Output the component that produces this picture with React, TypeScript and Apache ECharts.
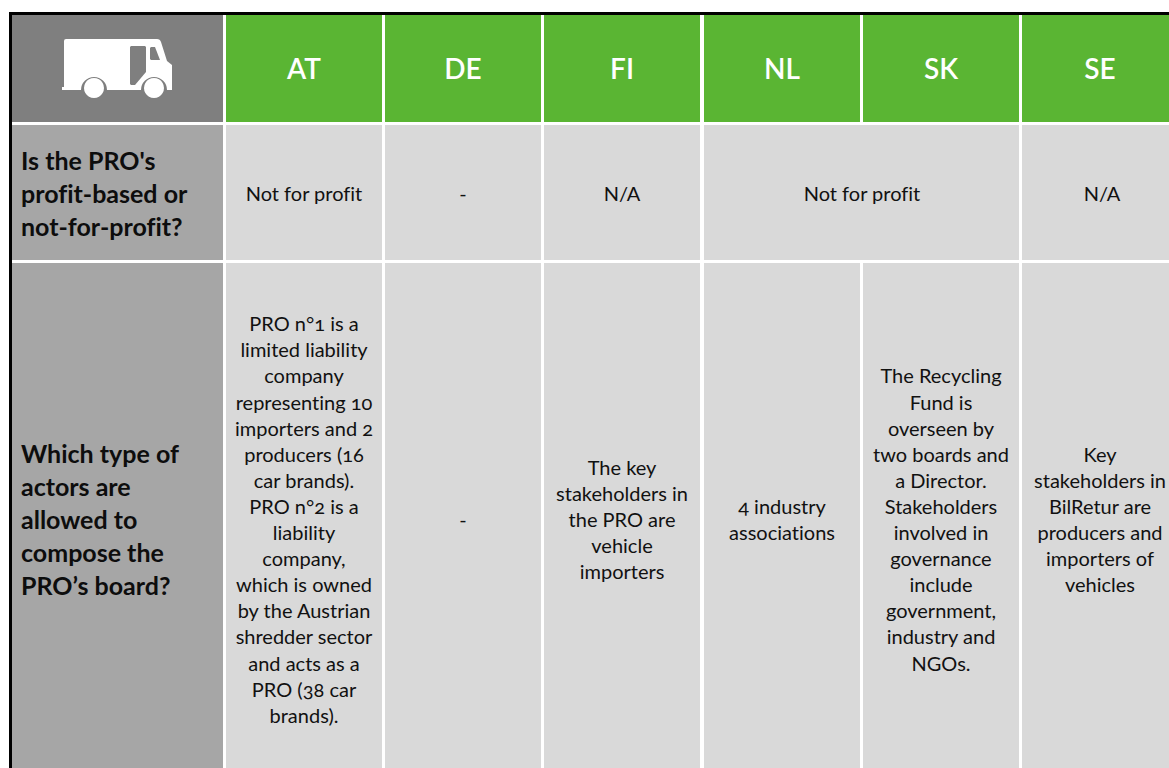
import React, { useEffect, useRef } from "react";
import * as echarts from "echarts";

const countries = ["AT", "DE", "FI", "NL", "SK", "SE"];
const rowLabels = [
  "Is the PRO's\nprofit-based or\nnot-for-profit?",
  "Which type of\nactors are\nallowed to\ncompose the\nPRO\u2019s board?",
];
const profitCells = [
  { text: "Not for profit", col: 0, span: 1 },
  { text: "-", col: 1, span: 1 },
  { text: "N/A", col: 2, span: 1 },
  { text: "Not for profit", col: 3, span: 2 },
  { text: "N/A", col: 5, span: 1 },
];
const boardCells = [
  "PRO n\u00b01 is a\nlimited liability\ncompany\nrepresenting 10\nimporters and 2\nproducers (16\ncar brands).\nPRO n\u00b02 is a\nliability\ncompany,\nwhich is owned\nby the Austrian\nshredder sector\nand acts as a\nPRO (38 car\nbrands).",
  "-",
  "The key\nstakeholders in\nthe PRO are\nvehicle\nimporters",
  "4 industry\nassociations",
  "The Recycling\nFund is\noverseen by\ntwo boards and\na Director.\nStakeholders\ninvolved in\ngovernance\ninclude\ngovernment,\nindustry and\nNGOs.",
  "Key\nstakeholders in\nBilRetur are\nproducers and\nimporters of\nvehicles",
];

const FONT = "Lato";
const colX = [226, 385, 544, 704, 863, 1022];
const colW = 156;
const labelX = 12;
const labelW = 211;
const rowY = [15, 125, 263];
const rowH = [107, 135, 505];
const bodyLine = 26.1;

const truckBody =
  "M66 39 L157 39 Q160 39 161 42 L167 61 L172 65 L172 90 L167 90 A13 13 0 0 0 141 90 L107 90 A13 13 0 0 0 81 90 L62 90 L62 87 L64 87 L64 41 Q64 39 66 39 Z";
echarts.graphic.registerShape("truck", echarts.graphic.extendPath(truckBody as any, {} as any) as any);

function rect(x: number, y: number, w: number, h: number, fill: any) {
  return { type: "rect", shape: { x, y, width: w, height: h }, style: { fill } };
}
function txt(x: number, y: number, text: string, size: number, weight: any, fill: string, align = "center", lineHeight = bodyLine) {
  return {
    type: "text",
    x,
    y,
    style: { text, fontFamily: FONT, fontSize: size, fontWeight: weight, fill, align, verticalAlign: "middle", lineHeight },
  };
}

export default function App() {
  const ref = useRef<HTMLDivElement>(null);
  useEffect(() => {
    document.body.style.margin = "0";
    const chart = echarts.init(ref.current!, undefined, { renderer: "svg" });
    const els: any[] = [];
    els.push(rect(9, 12, 1160, 3, "#000"));
    els.push(rect(9, 12, 3, 756, "#000"));
    els.push(rect(labelX, rowY[0], labelW, rowH[0], "#7f7f7f"));
    els.push(rect(labelX, rowY[1], labelW, rowH[1], "#a6a6a6"));
    els.push(rect(labelX, rowY[2], labelW, rowH[2], "#a6a6a6"));
    els.push({ type: "truck", style: { fill: "#fff" } });
    els.push({ type: "polygon", shape: { points: [[131, 46], [145, 46], [146, 47], [146, 72], [135, 85], [131, 85], [130, 84], [130, 47]] }, style: { fill: "#7f7f7f" } });
    els.push({ type: "polygon", shape: { points: [[151, 47], [155, 47], [160, 60], [151, 60], [150, 59], [150, 48]] }, style: { fill: "#7f7f7f" } });
    els.push({ type: "circle", shape: { cx: 94, cy: 88, r: 10 }, style: { fill: "#fff" } });
    els.push({ type: "circle", shape: { cx: 154, cy: 88, r: 10 }, style: { fill: "#fff" } });
    countries.forEach((c, i) => {
      els.push(rect(colX[i], rowY[0], colW, rowH[0], "#5ab533"));
      els.push(txt(colX[i] + 78, 68, c, 28, 600, "#fff"));
    });
    profitCells.forEach((c) => {
      const w = c.span === 2 ? 315 : colW;
      els.push(rect(colX[c.col], rowY[1], w, rowH[1], "#d9d9d9"));
      const cx = c.col === 5 ? 80 : c.span === 2 ? 158 : 78;
      els.push(txt(colX[c.col] + cx, 193, c.text, 20, 400, "#111"));
    });
    boardCells.forEach((t, i) => {
      els.push(rect(colX[i], rowY[2], colW, rowH[2], "#d9d9d9"));
      els.push(txt(colX[i] + 78, 519, t, 20, 400, "#111"));
    });
    els.push(txt(21, 193, rowLabels[0], 25, 700, "#0d0d0d", "left", 33));
    els.push(txt(21, 519, rowLabels[1], 25, 700, "#0d0d0d", "left", 33));
    chart.setOption({ animation: false, graphic: { elements: els } });
    return () => chart.dispose();
  }, []);
  return (
    <>
      <style>{'text{font-feature-settings:"onum" 1,"liga" 0;}'}</style>
      <div ref={ref} style={{ position: "absolute", left: 0, top: 0, width: 1169, height: 768 }} />
    </>
  );
}
